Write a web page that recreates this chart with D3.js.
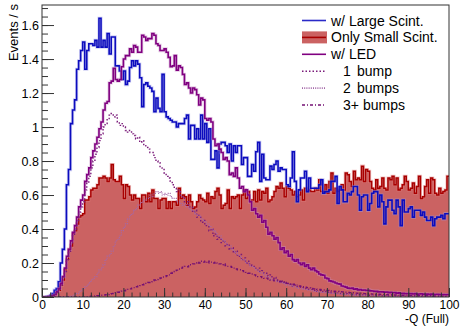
<!DOCTYPE html>
<html>
<head>
<meta charset="utf-8">
<script src="https://cdn.jsdelivr.net/npm/d3@7"></script>
<style>
body { margin: 0; background: #fff; }
text { font-family: "Liberation Sans", Arial, Helvetica, sans-serif; }
</style>
</head>
<body>
<div id="chart"></div>
<script>
// 200 bins of width 0.5 on -Q from 0 to 100
var binWidth = 0.5;

var largeScint = [
  0, 0, 0.002, 0.004, 0.01, 0.02, 0.04, 0.05, 0.09, 0.2,
  0.28, 0.40, 0.66, 0.75, 1.02, 1.10, 1.16, 1.34, 1.39, 1.45,
  1.50, 1.34, 1.45, 1.49, 1.49, 1.48, 1.51, 1.47, 1.64, 1.47,
  1.51, 1.47, 1.55, 1.43, 1.53, 1.53, 1.36, 1.36, 1.33, 1.28,
  1.33, 1.25, 1.27, 1.35, 1.39, 1.36, 1.39, 1.37, 1.29, 1.12,
  1.25, 1.26, 1.24, 1.23, 1.21, 1.09, 1.17, 1.11, 1.09, 1.31,
  1.09, 1.06, 1.05, 1.04, 1.03, 1.03, 1.0,
  1.02, 1.02, 1.02, 1.05, 1.07, 0.93, 1.01, 1.01, 0.93, 0.99,
  0.93, 1.07, 0.93, 1.02, 0.91, 0.99, 0.81, 0.81, 0.86, 0.76,
  0.90, 0.91, 0.91, 0.89, 0.85, 0.90, 0.80, 0.89, 0.85, 0.89,
  0.89, 0.78, 0.82, 0.82, 0.71, 0.71, 0.78, 0.74, 0.855, 0.91,
  0.68, 0.84, 0.70, 0.69, 0.69, 0.77, 0.75, 0.78, 0.80, 0.74,
  0.76, 0.75, 0.75, 0.66, 0.65, 0.70, 0.855, 0.68, 0.56, 0.63,
  0.70, 0.70, 0.74, 0.62, 0.70, 0.64, 0.64,
  0.64, 0.64, 0.66, 0.69, 0.61, 0.62, 0.62, 0.63, 0.68, 0.68,
  0.71, 0.55, 0.65, 0.63, 0.56, 0.56, 0.61, 0.60, 0.62, 0.65,
  0.65, 0.60, 0.51, 0.59, 0.60, 0.60, 0.51, 0.55, 0.61, 0.62,
  0.62, 0.53, 0.60, 0.56, 0.43, 0.53, 0.57, 0.57, 0.51, 0.49,
  0.57, 0.53, 0.42, 0.57, 0.50, 0.50, 0.52, 0.53, 0.47, 0.51,
  0.51, 0.51, 0.48, 0.50, 0.47, 0.45, 0.45, 0.47, 0.42, 0.46,
  0.47, 0.47, 0.48, 0.46, 0.49, 0.49
];

var smallScint = [
  0, 0, 0, 0.002, 0.004, 0.008, 0.015, 0.025, 0.04, 0.07,
  0.10, 0.16, 0.22, 0.28, 0.30, 0.375, 0.39, 0.43, 0.47, 0.48,
  0.49, 0.57, 0.57, 0.59, 0.63, 0.64, 0.64, 0.66,
  0.70, 0.70, 0.71, 0.70, 0.68, 0.70, 0.78, 0.69, 0.68, 0.68,
  0.71, 0.66, 0.58, 0.66, 0.65, 0.60, 0.57, 0.60, 0.58, 0.58,
  0.52, 0.60, 0.60, 0.56, 0.61, 0.56, 0.63, 0.58, 0.58, 0.52,
  0.57, 0.58, 0.58, 0.52, 0.56, 0.52, 0.56, 0.56, 0.54,
  0.64, 0.58, 0.60, 0.59, 0.54, 0.60, 0.56, 0.52, 0.53, 0.56,
  0.60, 0.58, 0.57, 0.56, 0.61, 0.55, 0.59, 0.58, 0.62, 0.64,
  0.60, 0.52, 0.54, 0.55, 0.63, 0.52, 0.59, 0.58, 0.59, 0.60,
  0.52, 0.60, 0.63, 0.58, 0.62, 0.56, 0.57, 0.62, 0.56, 0.63,
  0.57, 0.62, 0.61, 0.64, 0.56, 0.57, 0.59, 0.62, 0.65, 0.64,
  0.67, 0.64, 0.59, 0.65, 0.64, 0.63, 0.60, 0.62, 0.59, 0.60,
  0.63, 0.57, 0.64, 0.62, 0.63, 0.62, 0.62,
  0.64, 0.63, 0.69, 0.62, 0.62, 0.66, 0.61, 0.68, 0.73, 0.61,
  0.64, 0.62, 0.63, 0.66, 0.63, 0.73, 0.72, 0.68, 0.65, 0.74,
  0.69, 0.70, 0.69, 0.77, 0.68, 0.75, 0.74, 0.68, 0.64, 0.63,
  0.69, 0.64, 0.65, 0.70, 0.64, 0.63, 0.70, 0.69, 0.71, 0.66,
  0.70, 0.63, 0.64, 0.66, 0.71, 0.68, 0.63, 0.64, 0.67, 0.61,
  0.65, 0.71, 0.58, 0.59, 0.65, 0.69, 0.61, 0.70, 0.69, 0.61,
  0.60, 0.64, 0.61, 0.62, 0.63, 0.71
];

var withLED = [
  0, 0, 0, 0.002, 0.004, 0.008, 0.015, 0.03, 0.05, 0.08,
  0.12, 0.17, 0.24, 0.28, 0.33, 0.38, 0.42, 0.47, 0.53, 0.57,
  0.60, 0.68, 0.72, 0.76, 0.82, 0.86, 0.90, 0.94, 0.99, 1.03,
  1.10, 1.14, 1.15, 1.26, 1.27, 1.345, 1.28, 1.27, 1.28, 1.355,
  1.40, 1.42, 1.42, 1.46, 1.44, 1.48, 1.47, 1.44, 1.44, 1.54,
  1.53, 1.51, 1.52, 1.52, 1.55, 1.54, 1.49, 1.48, 1.45, 1.45,
  1.46, 1.44, 1.41, 1.355, 1.36, 1.42, 1.335,
  1.36, 1.35, 1.31, 1.25, 1.26, 1.23, 1.20, 1.23, 1.22, 1.19,
  1.13, 1.17, 1.16, 1.05, 1.04, 1.05, 1.03, 0.93, 0.89, 0.90,
  0.87, 0.85, 0.81, 0.82, 0.80, 0.72, 0.73, 0.71, 0.76, 0.70,
  0.64, 0.65, 0.62, 0.63, 0.60, 0.56, 0.51, 0.52, 0.49, 0.47,
  0.48, 0.44, 0.45, 0.41, 0.37, 0.38, 0.36, 0.34, 0.35, 0.32,
  0.28, 0.29, 0.26, 0.27, 0.24, 0.25, 0.22, 0.21, 0.22, 0.20,
  0.19, 0.20, 0.18, 0.19, 0.17, 0.16, 0.17,
  0.155, 0.148, 0.135, 0.13, 0.128, 0.112, 0.108, 0.095, 0.092, 0.088,
  0.082, 0.078, 0.076, 0.065, 0.062, 0.058, 0.052, 0.05, 0.052, 0.046,
  0.048, 0.042, 0.044, 0.04, 0.041, 0.038, 0.04, 0.036, 0.035, 0.033,
  0.034, 0.03, 0.031, 0.03, 0.028, 0.029, 0.026, 0.027, 0.025, 0.026,
  0.022, 0.024, 0.021, 0.022, 0.02, 0.021, 0.019, 0.02, 0.018, 0.02,
  0.017, 0.018, 0.019, 0.016, 0.018, 0.017, 0.015, 0.017, 0.016, 0.015,
  0.016, 0.014, 0.015, 0.014, 0.013, 0.014
];

var oneBump = [
  0, 0, 0, 0.002, 0.004, 0.007, 0.013, 0.025, 0.045, 0.07,
  0.11, 0.15, 0.22, 0.26, 0.31, 0.36, 0.40, 0.45, 0.50, 0.53,
  0.56, 0.63, 0.67, 0.71, 0.76, 0.80, 0.84, 0.88, 0.92, 0.96,
  1.00, 1.02, 1.05, 1.07, 1.08, 1.06, 1.07, 1.03, 1.01, 1.02,
  1.00, 0.98, 0.97, 0.98, 0.96, 0.95, 0.93, 0.94, 0.91, 0.92,
  0.89, 0.88, 0.87, 0.85, 0.85, 0.82, 0.80, 0.79, 0.76, 0.75,
  0.73, 0.71, 0.70, 0.68, 0.66, 0.64, 0.62,
  0.63, 0.59, 0.59, 0.56, 0.56, 0.53, 0.53, 0.50, 0.51, 0.47,
  0.48, 0.44, 0.45, 0.42, 0.42, 0.39, 0.40, 0.36, 0.37, 0.34,
  0.35, 0.32, 0.33, 0.30, 0.31, 0.28, 0.29, 0.26, 0.27, 0.24,
  0.25, 0.22, 0.23, 0.20, 0.21, 0.19, 0.18, 0.18, 0.16, 0.17,
  0.15, 0.155, 0.14, 0.14, 0.125, 0.13, 0.11, 0.115, 0.10, 0.10,
  0.09, 0.095, 0.08, 0.085, 0.075, 0.075, 0.065, 0.07, 0.06, 0.06,
  0.055, 0.055, 0.05, 0.05, 0.045, 0.045, 0.04,
  0.04, 0.035, 0.038, 0.032, 0.03, 0.032, 0.027, 0.028, 0.025, 0.024,
  0.022, 0.023, 0.02, 0.02, 0.018, 0.019, 0.016, 0.017, 0.015, 0.015,
  0.013, 0.014, 0.012, 0.012, 0.011, 0.011, 0.01, 0.01, 0.009, 0.01,
  0.008, 0.009, 0.008, 0.007, 0.008, 0.007, 0.006, 0.007, 0.006, 0.006,
  0.005, 0.006, 0.005, 0.005, 0.005, 0.004, 0.005, 0.004, 0.004, 0.004,
  0.004, 0.003, 0.004, 0.003, 0.003, 0.003, 0.003, 0.003, 0.002, 0.003,
  0.002, 0.002, 0.002, 0.002, 0.002, 0.002
];

var twoBumps = [
  0, 0, 0, 0, 0, 0, 0, 0, 0, 0,
  0, 0, 0.002, 0.004, 0.006, 0.01, 0.015, 0.02, 0.03, 0.04,
  0.05, 0.06, 0.07, 0.085, 0.10, 0.11, 0.12, 0.14, 0.16, 0.17,
  0.19, 0.22, 0.24, 0.25, 0.27, 0.30, 0.33, 0.34, 0.36, 0.39,
  0.41, 0.43, 0.46, 0.48, 0.49, 0.51, 0.52, 0.54, 0.55, 0.56,
  0.57, 0.58, 0.58, 0.60, 0.59, 0.61, 0.62, 0.61, 0.62, 0.60,
  0.61, 0.60, 0.61, 0.59, 0.58, 0.58, 0.56,
  0.56, 0.55, 0.54, 0.55, 0.53, 0.52, 0.51, 0.51, 0.49, 0.48,
  0.48, 0.46, 0.45, 0.44, 0.43, 0.42, 0.40, 0.39, 0.38, 0.36,
  0.36, 0.34, 0.33, 0.32, 0.30, 0.30, 0.28, 0.27, 0.26, 0.25,
  0.24, 0.22, 0.22, 0.20, 0.20, 0.18, 0.18, 0.17, 0.16, 0.15,
  0.14, 0.14, 0.13, 0.12, 0.12, 0.11, 0.10, 0.10, 0.09, 0.09,
  0.085, 0.08, 0.075, 0.07, 0.07, 0.065, 0.06, 0.06, 0.055, 0.05,
  0.05, 0.045, 0.045, 0.04, 0.04, 0.038, 0.035,
  0.033, 0.032, 0.03, 0.029, 0.027, 0.026, 0.025, 0.023, 0.022, 0.021,
  0.02, 0.019, 0.018, 0.017, 0.016, 0.015, 0.014, 0.014, 0.013, 0.012,
  0.011, 0.011, 0.01, 0.01, 0.009, 0.009, 0.008, 0.008, 0.007, 0.007,
  0.007, 0.006, 0.006, 0.006, 0.005, 0.005, 0.005, 0.005, 0.004, 0.004,
  0.004, 0.004, 0.004, 0.003, 0.003, 0.003, 0.003, 0.003, 0.003, 0.002,
  0.002, 0.002, 0.002, 0.002, 0.002, 0.002, 0.002, 0.002, 0.001, 0.001,
  0.001, 0.001, 0.001, 0.001, 0.001, 0.001
];

var threeBumps = [
  0, 0, 0, 0, 0, 0, 0, 0, 0, 0,
  0, 0, 0, 0, 0, 0, 0, 0, 0, 0,
  0.001, 0.002, 0.002, 0.003, 0.004, 0.005, 0.006, 0.007, 0.008, 0.01,
  0.011, 0.013, 0.015, 0.017, 0.02, 0.022, 0.025, 0.028, 0.03, 0.034,
  0.037, 0.04, 0.045, 0.048, 0.052, 0.055, 0.06, 0.063, 0.067, 0.072,
  0.075, 0.08, 0.085, 0.09, 0.095, 0.10, 0.103, 0.108, 0.112, 0.118,
  0.12, 0.125, 0.13, 0.14, 0.145, 0.15, 0.158, 0.165, 0.17, 0.175,
  0.18, 0.178, 0.19, 0.19, 0.195, 0.20, 0.205, 0.20, 0.21, 0.205,
  0.21, 0.20, 0.21, 0.205, 0.20, 0.205, 0.20, 0.195, 0.19, 0.195,
  0.185, 0.18, 0.18, 0.175, 0.17, 0.165, 0.16, 0.16, 0.155, 0.15,
  0.145, 0.14, 0.14, 0.135, 0.13, 0.125, 0.12, 0.12, 0.115, 0.11,
  0.11, 0.105, 0.10, 0.10, 0.095, 0.095, 0.09, 0.09, 0.088, 0.085,
  0.08, 0.08, 0.075, 0.075, 0.07, 0.07, 0.065, 0.063, 0.06, 0.058,
  0.055, 0.053, 0.05, 0.048,
  0.047, 0.045, 0.044, 0.042, 0.041, 0.04, 0.038, 0.037, 0.036, 0.034,
  0.033, 0.032, 0.031, 0.03, 0.029, 0.028, 0.027, 0.026, 0.025, 0.024,
  0.023, 0.022, 0.022, 0.021, 0.02, 0.019, 0.019, 0.018, 0.017, 0.017,
  0.016, 0.016, 0.015, 0.015, 0.014, 0.014, 0.013, 0.013, 0.012, 0.012,
  0.011, 0.011, 0.011, 0.010, 0.010, 0.010, 0.009, 0.009, 0.009, 0.008,
  0.008, 0.008, 0.008, 0.007, 0.007, 0.007, 0.007, 0.006, 0.006, 0.006,
  0.006, 0.006, 0.005, 0.005, 0.005, 0.005
];

var xTicks = [0, 10, 20, 30, 40, 50, 60, 70, 80, 90, 100];
var yTicks = [0, 0.2, 0.4, 0.6, 0.8, 1, 1.2, 1.4, 1.6];
var xTitle = "-Q (Full)";
var yTitle = "Events / s";

var width = 462, height = 329;
var margin = {top: 5, right: 13, bottom: 32, left: 42};

var svg = d3.select("#chart")
  .append("svg")
    .attr("width", width)
    .attr("height", height);

var x = d3.scaleLinear().domain([0, 100]).range([margin.left, width - margin.right]);
var y = d3.scaleLinear().domain([0, 1.718]).range([height - margin.bottom, margin.top]);

svg.append("clipPath").attr("id", "plotclip")
  .append("rect")
    .attr("x", x(0)).attr("y", y(1.718))
    .attr("width", x(100) - x(0)).attr("height", y(0) - y(1.718));

// turn bin contents into step points (left edges plus the last right edge)
function steps(vals) {
  var pts = vals.map(function(v, i) { return [i * binWidth, v]; });
  pts.push([vals.length * binWidth, vals[vals.length - 1]]);
  return pts;
}

var line = d3.line()
  .x(function(d) { return x(d[0]); })
  .y(function(d) { return y(d[1]); })
  .curve(d3.curveStepAfter);

var area = d3.area()
  .x(function(d) { return x(d[0]); })
  .y0(y(0))
  .y1(function(d) { return y(d[1]); })
  .curve(d3.curveStepAfter);

var plot = svg.append("g").attr("clip-path", "url(#plotclip)");

// Only Small Scint. : filled
plot.append("path")
  .datum(steps(smallScint))
  .attr("d", area)
  .attr("fill", "#cb6262");

function drawHist(vals, color, halo, width, dash) {
  if (halo) {
    plot.append("path")
      .datum(steps(vals))
      .attr("d", line)
      .attr("fill", "none")
      .attr("stroke", halo)
      .attr("stroke-opacity", 0.45)
      .attr("stroke-width", width + 1.6);
  }
  plot.append("path")
    .datum(steps(vals))
    .attr("d", line)
    .attr("fill", "none")
    .attr("stroke", color)
    .attr("stroke-width", width)
    .attr("stroke-dasharray", dash || null);
}

drawHist(smallScint, "#a80000", "#e08080", 1.5);
drawHist(largeScint, "#0c0cbe", "#9a9ae6", 1.6);
drawHist(withLED, "#800080", "#c890c8", 1.6);
drawHist(oneBump, "#7a1a7a", null, 1.4, "1.5,2");
drawHist(twoBumps, "#a468a8", null, 1.2, "1,1.2");
drawHist(threeBumps, "#741074", null, 1.4, "3,2,1,2");

// frame
svg.append("rect")
  .attr("x", x(0)).attr("y", y(1.718))
  .attr("width", x(100) - x(0)).attr("height", y(0) - y(1.718))
  .attr("fill", "none")
  .attr("stroke", "#333")
  .attr("stroke-width", 1);

// x axis: ticks pointing into the frame
var gx = svg.append("g").attr("transform", "translate(0," + y(0) + ")");
gx.call(d3.axisBottom(x).tickValues(xTicks).tickSizeInner(-9).tickSizeOuter(0)
    .tickPadding(3).tickFormat(function(d) { return d; }));
gx.append("g").call(d3.axisBottom(x).tickValues(d3.range(0, 101, 2)).tickSize(-4.5).tickFormat(""));
gx.selectAll(".domain").remove();
gx.selectAll("line").attr("stroke", "#333");
gx.selectAll("text").attr("font-size", 12).attr("font-family", "Liberation Sans, Arial, sans-serif").attr("fill", "#000");

var gy = svg.append("g").attr("transform", "translate(" + x(0) + ",0)");
gy.call(d3.axisLeft(y).tickValues(yTicks).tickSizeInner(-12).tickSizeOuter(0)
    .tickPadding(3).tickFormat(function(d) { return d; }));
gy.append("g").call(d3.axisLeft(y).tickValues(d3.range(0, 1.72, 0.05)).tickSize(-6).tickFormat(""));
gy.selectAll(".domain").remove();
gy.selectAll("line").attr("stroke", "#333");
gy.selectAll("text").attr("font-size", 12.5).attr("font-family", "Liberation Sans, Arial, sans-serif").attr("fill", "#000");

// axis titles
svg.append("text")
  .attr("x", x(100)).attr("y", 322.5)
  .attr("text-anchor", "end")
  .attr("font-size", "12px")
  .text(xTitle);

svg.append("text")
  .attr("transform", "translate(18,4) rotate(-90)")
  .attr("text-anchor", "end")
  .attr("font-size", "13px")
  .text(yTitle);

// legend
var legend = [
  {label: "w/ Large Scint.", color: "#2a2ac8", type: "line"},
  {label: "Only Small Scint.", color: "#a80000", type: "fill"},
  {label: "w/ LED", color: "#800080", type: "line"},
  {label: "1", label2: "bump", color: "#7a1a7a", type: "line", dash: "1.5,2"},
  {label: "2", label2: "bumps", color: "#a468a8", type: "line", dash: "1,1.2"},
  {label: "3+", label2: "bumps", color: "#741074", type: "line", dash: "3,2,1,2"}
];

var lg = svg.append("g");
legend.forEach(function(d, i) {
  var cy = 20.5 + i * 16.9;
  if (d.type == "fill") {
    lg.append("rect").attr("x", 302).attr("y", cy - 6).attr("width", 25).attr("height", 12)
      .attr("fill", "#cb6262");
  }
  lg.append("line")
    .attr("x1", 302).attr("x2", 326).attr("y1", cy).attr("y2", cy)
    .attr("stroke", d.color).attr("stroke-width", 1.6)
    .attr("stroke-dasharray", d.dash || null);
  if (d.label2) {
    lg.append("text").attr("x", 343).attr("y", cy + 5).attr("font-size", "14px").text(d.label);
    lg.append("text").attr("x", d.label == "3+" ? 363 : 357).attr("y", cy + 5).attr("font-size", "14px").text(d.label2);
  } else {
    lg.append("text").attr("x", 331).attr("y", cy + 5).attr("font-size", "14px").text(d.label);
  }
});
</script>
</body>
</html>
